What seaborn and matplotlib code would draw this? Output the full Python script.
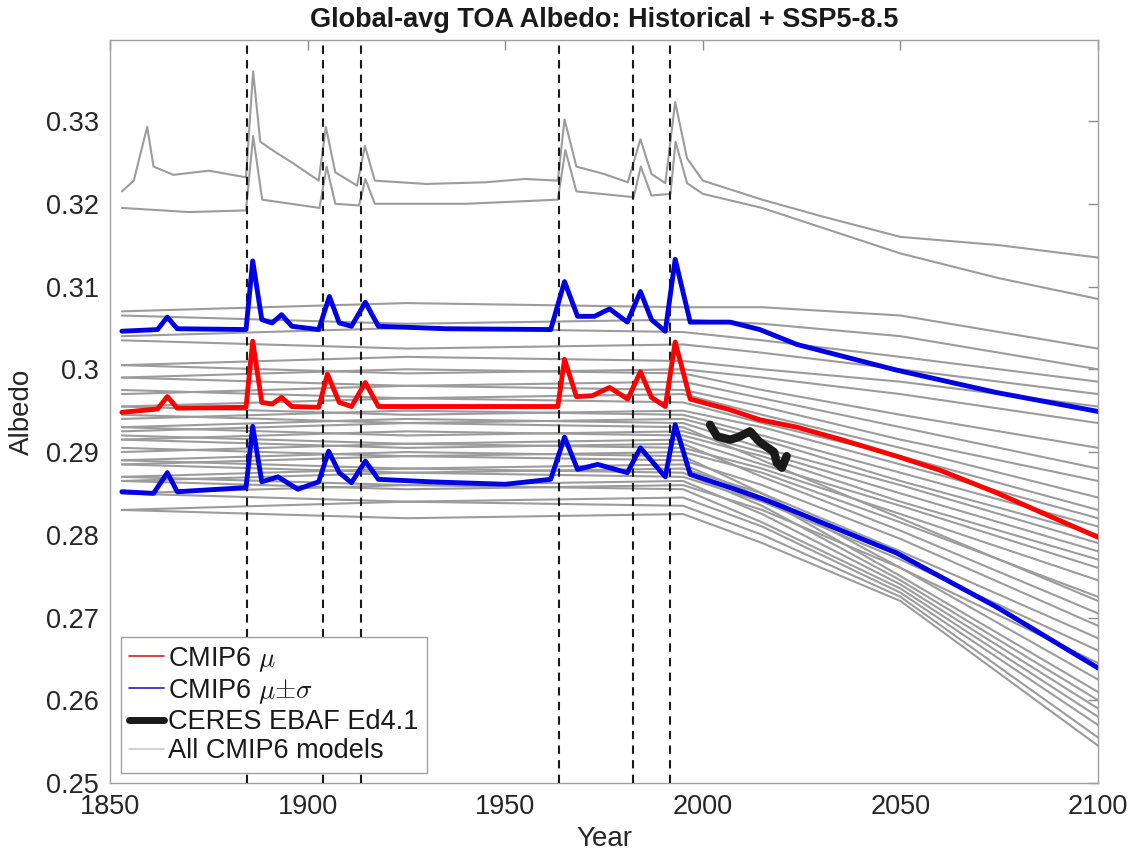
import numpy as np
import pandas as pd
import matplotlib
matplotlib.use("Agg")
import matplotlib.pyplot as plt
from matplotlib.lines import Line2D
import seaborn as sns

# ----- values -----
title = "Global-avg TOA Albedo: Historical + SSP5-8.5"
volcano_years = [1884.6, 1903.8, 1913.4, 1963.5, 1982.4, 1991.7]

ytick_vals = [0.25, 0.26, 0.27, 0.28, 0.29, 0.30, 0.31, 0.32, 0.33]
ytick_labels = ["0.25", "0.26", "0.27", "0.28", "0.29", "0.3", "0.31", "0.32", "0.33"]
xtick_vals = [1850, 1900, 1950, 2000, 2050, 2100]

# CMIP6 ensemble mean
mean_years = [1853, 1862, 1864.5, 1867, 1884.4, 1886.1, 1888.4, 1891, 1893.4, 1896, 1902.8, 1905.0,
              1908, 1911.1, 1914.6, 1917.9, 1930, 1950, 1963.3, 1965.0, 1968, 1972, 1976.4, 1981,
              1984.2, 1987, 1990.5, 1993.0, 1996.8, 2006.9, 2014.4, 2023.8, 2035, 2049, 2060,
              2074.2, 2088, 2100]
mean_vals = [0.2948, 0.2952, 0.2967, 0.2953, 0.2954, 0.3034, 0.2960, 0.2958, 0.2966, 0.2955, 0.2954, 0.2994,
             0.2960, 0.2955, 0.2984, 0.2955, 0.2955, 0.2955, 0.2955, 0.3012, 0.2967, 0.2968, 0.2978, 0.2964,
             0.2997, 0.2966, 0.2955, 0.3033, 0.2964, 0.2951, 0.2939, 0.2930, 0.2915, 0.2895, 0.2878,
             0.2851, 0.2822, 0.2797]

# mean + sigma
upper_years = [1853, 1862, 1864.5, 1867, 1884.4, 1886.1, 1888.4, 1891, 1893.4, 1896, 1902.8, 1905.5,
               1908, 1911.1, 1914.6, 1917.9, 1935, 1961.5, 1965.0, 1968.3, 1972.6, 1976.4, 1980.9,
               1984.2, 1987, 1990.5, 1993.0, 1996.8, 2006.9, 2014.4, 2023.8, 2049, 2074.2, 2100]
upper_vals = [0.3046, 0.3048, 0.3063, 0.3049, 0.3048, 0.3131, 0.3060, 0.3056, 0.3066, 0.3052, 0.3048, 0.3088,
              0.3056, 0.3052, 0.3081, 0.3052, 0.3049, 0.3048, 0.3106, 0.3064, 0.3064, 0.3073, 0.3057,
              0.3094, 0.3060, 0.3046, 0.3133, 0.3057, 0.3057, 0.3048, 0.3030, 0.2999, 0.2972, 0.2949]

# mean - sigma
lower_years = [1853, 1861, 1864.5, 1867, 1884.4, 1886.1, 1888.4, 1892.5, 1897.5, 1902.8, 1905.3, 1908,
               1911.1, 1914.6, 1917.9, 1931, 1950, 1961.5, 1965.0, 1968.3, 1973.4, 1980.9, 1984.2,
               1990.5, 1993.0, 1996.8, 2006.9, 2015.4, 2023.8, 2049, 2074.2, 2100]
lower_vals = [0.2852, 0.2850, 0.2875, 0.2852, 0.2857, 0.2931, 0.2864, 0.2870, 0.2855, 0.2864, 0.2901, 0.2875,
              0.2863, 0.2889, 0.2867, 0.2864, 0.2861, 0.2867, 0.2918, 0.2879, 0.2885, 0.2875, 0.2905,
              0.2870, 0.2933, 0.2873, 0.2857, 0.2843, 0.2827, 0.2778, 0.2713, 0.2639]

# CERES EBAF Ed4.1 observations
ceres_years = [2001.8, 2003.6, 2005.2, 2006.9, 2009.0, 2011.9, 2014.4, 2016.2, 2018.0, 2018.7, 2020.0, 2021.2]
ceres_vals = [0.2933, 0.2919, 0.2917, 0.2915, 0.2918, 0.2925, 0.2912, 0.2906, 0.2900, 0.2887, 0.2881, 0.2895]

# individual CMIP6 models (the main band), values at a few years
gray_years = [1853, 1925, 1995, 2015, 2050, 2100]
gray_1853 = [0.3070, 0.3065, 0.3040, 0.3035, 0.3005, 0.3005, 0.2990, 0.2990, 0.2970, 0.2975, 0.2955, 0.2955,
             0.2940, 0.2945, 0.2930, 0.2930, 0.2915, 0.2920, 0.2900, 0.2905, 0.2925, 0.2915, 0.2885, 0.2885,
             0.2865, 0.2865, 0.2890, 0.2890, 0.2870, 0.2870, 0.2850, 0.2850, 0.2830, 0.2830]
gray_1925 = [0.3080, 0.3055, 0.3050, 0.3025, 0.3015, 0.2995, 0.3000, 0.2980, 0.2980, 0.2965, 0.2965, 0.2945,
             0.2950, 0.2935, 0.2940, 0.2920, 0.2925, 0.2910, 0.2910, 0.2895, 0.2935, 0.2905, 0.2895, 0.2875,
             0.2875, 0.2855, 0.2900, 0.2880, 0.2880, 0.2860, 0.2860, 0.2840, 0.2840, 0.2820]
gray_1995 = [0.3075, 0.3060, 0.3045, 0.3030, 0.3010, 0.3000, 0.2995, 0.2985, 0.2975, 0.2970, 0.2960, 0.2950,
             0.2945, 0.2940, 0.2935, 0.2925, 0.2920, 0.2915, 0.2905, 0.2900, 0.2930, 0.2910, 0.2890, 0.2880,
             0.2870, 0.2860, 0.2895, 0.2885, 0.2875, 0.2865, 0.2855, 0.2845, 0.2835, 0.2825]
gray_2015 = [0.3075, 0.3055, 0.3035, 0.3020, 0.3000, 0.2990, 0.2975, 0.2965, 0.2955, 0.2945, 0.2935, 0.2930,
             0.2920, 0.2915, 0.2905, 0.2900, 0.2895, 0.2885, 0.2880, 0.2875, 0.2890, 0.2870, 0.2860, 0.2850,
             0.2840, 0.2830, 0.2850, 0.2845, 0.2835, 0.2825, 0.2815, 0.2810, 0.2800, 0.2790]
gray_2050 = [0.3065, 0.3040, 0.3015, 0.3000, 0.2985, 0.2970, 0.2945, 0.2930, 0.2915, 0.2905, 0.2895, 0.2885,
             0.2875, 0.2865, 0.2860, 0.2850, 0.2840, 0.2835, 0.2825, 0.2815, 0.2820, 0.2805, 0.2795, 0.2780,
             0.2770, 0.2760, 0.2760, 0.2750, 0.2745, 0.2740, 0.2735, 0.2730, 0.2725, 0.2720]
gray_2100 = [0.3025, 0.3000, 0.2985, 0.2970, 0.2955, 0.2935, 0.2905, 0.2880, 0.2865, 0.2845, 0.2830, 0.2820,
             0.2810, 0.2800, 0.2790, 0.2780, 0.2770, 0.2760, 0.2745, 0.2725, 0.2720, 0.2705, 0.2690, 0.2675,
             0.2660, 0.2645, 0.2625, 0.2610, 0.2600, 0.2590, 0.2580, 0.2570, 0.2555, 0.2545]

# the two high-albedo models at the top
topA_years = [1853, 1856, 1859.4, 1861, 1866, 1875, 1884.4, 1886.2, 1888, 1892, 1896, 1902.8, 1904.6,
              1907, 1912.5, 1914.5, 1917, 1930, 1945, 1955, 1963.3, 1965.0, 1968, 1975, 1981, 1984.2,
              1987, 1990.5, 1993.0, 1996, 2000, 2015, 2030, 2050, 2075, 2100]
topA_vals = [0.3215, 0.3228, 0.3293, 0.3245, 0.3235, 0.3240, 0.3232, 0.3360, 0.3275, 0.3262, 0.3250, 0.3228, 0.3293,
             0.3238, 0.3222, 0.3270, 0.3228, 0.3224, 0.3226, 0.3230, 0.3228, 0.3302, 0.3245, 0.3236, 0.3226, 0.3278,
             0.3236, 0.3225, 0.3323, 0.3255, 0.3228, 0.3205, 0.3185, 0.3160, 0.3150, 0.3135]
topB_years = [1853, 1870, 1884.4, 1886.2, 1888.5, 1903, 1904.8, 1907, 1913, 1914.6, 1917, 1940, 1963.3,
              1965.2, 1968, 1982.5, 1984.3, 1987, 1991.8, 1993.1, 1996, 2000, 2015, 2050, 2075, 2100]
topB_vals = [0.3195, 0.3190, 0.3192, 0.3282, 0.3205, 0.3195, 0.3245, 0.3200, 0.3198, 0.3230, 0.3200, 0.3200, 0.3205,
             0.3265, 0.3215, 0.3208, 0.3245, 0.3210, 0.3212, 0.3275, 0.3225, 0.3212, 0.3195, 0.3140, 0.3110, 0.3085]


def build_gray_frame():
    cols = [gray_1853, gray_1925, gray_1995, gray_2015, gray_2050, gray_2100]
    rows = []
    for m in range(len(gray_1853)):
        for yr, col in zip(gray_years, cols):
            rows.append({"model": f"m{m}", "year": yr, "albedo": col[m]})
    for yr, v in zip(topA_years, topA_vals):
        rows.append({"model": "topA", "year": yr, "albedo": v})
    for yr, v in zip(topB_years, topB_vals):
        rows.append({"model": "topB", "year": yr, "albedo": v})
    return pd.DataFrame(rows)


def main():
    sns.set_theme(style="white")
    plt.rcParams["font.family"] = ["Liberation Sans", "DejaVu Sans"]
    plt.rcParams["mathtext.fontset"] = "cm"

    fig = plt.figure(figsize=(11.38, 8.56), dpi=100)
    ax = fig.add_axes([0.0967, 0.0853, 0.8682, 0.8680])

    gray_df = build_gray_frame()
    sns.lineplot(data=gray_df, x="year", y="albedo", units="model", estimator=None,
                 color="#9c9c9c", lw=1.5, ax=ax, legend=False, zorder=2)

    for vy in volcano_years:
        ax.axvline(vy, color="k", ls=(0, (4, 3)), lw=1.5, zorder=3)

    sns.lineplot(x=upper_years, y=upper_vals, color="#0000e6", lw=3.5, ax=ax, zorder=4)
    sns.lineplot(x=lower_years, y=lower_vals, color="#0000e6", lw=3.5, ax=ax, zorder=4)
    sns.lineplot(x=mean_years, y=mean_vals, color="#ff0000", lw=3.5, ax=ax, zorder=5)
    sns.lineplot(x=ceres_years, y=ceres_vals, color="k", lw=6, ax=ax, zorder=6)

    ax.set_xlim(1850, 2100)
    ax.set_ylim(0.25, 0.3398)
    ax.set_xticks(xtick_vals)
    ax.set_yticks(ytick_vals)
    ax.set_yticklabels(ytick_labels)

    txt = "#262626"
    ax.tick_params(direction="in", length=7, width=1, colors="#8c8c8c", labelcolor=txt,
                   labelsize=19.5, top=True, right=True, pad=8)
    for sp in ax.spines.values():
        sp.set_color("#a0a0a0")
        sp.set_linewidth(1.0)

    ax.set_xlabel("Year", fontsize=20, color=txt, labelpad=4)
    ax.set_ylabel("Albedo", fontsize=20, color=txt, labelpad=8)
    ax.set_title(title, fontsize=19.5, fontweight="bold", color="k", pad=9)

    handles = [
        Line2D([], [], color="#d62020", lw=1.2),
        Line2D([], [], color="#2020c0", lw=1.2),
        Line2D([], [], color="k", lw=5),
        Line2D([], [], color="#c8c8c8", lw=1.2),
    ]
    labels = [r"CMIP6 $\mu$", r"CMIP6 $\mu{\pm}\sigma$", "CERES EBAF Ed4.1", "All CMIP6 models"]
    leg = ax.legend(handles, labels, loc="lower left", bbox_to_anchor=(0.011, 0.014),
                    fontsize=19.5, frameon=True, fancybox=False, framealpha=1,
                    edgecolor="#a0a0a0", handlelength=1.3, handletextpad=0.15,
                    labelspacing=0.12, borderpad=0.3, borderaxespad=0)
    leg.get_frame().set_linewidth(1.0)
    for t in leg.get_texts():
        t.set_color("k")

    fig.savefig("out.png", dpi=100)


if __name__ == "__main__":
    main()
